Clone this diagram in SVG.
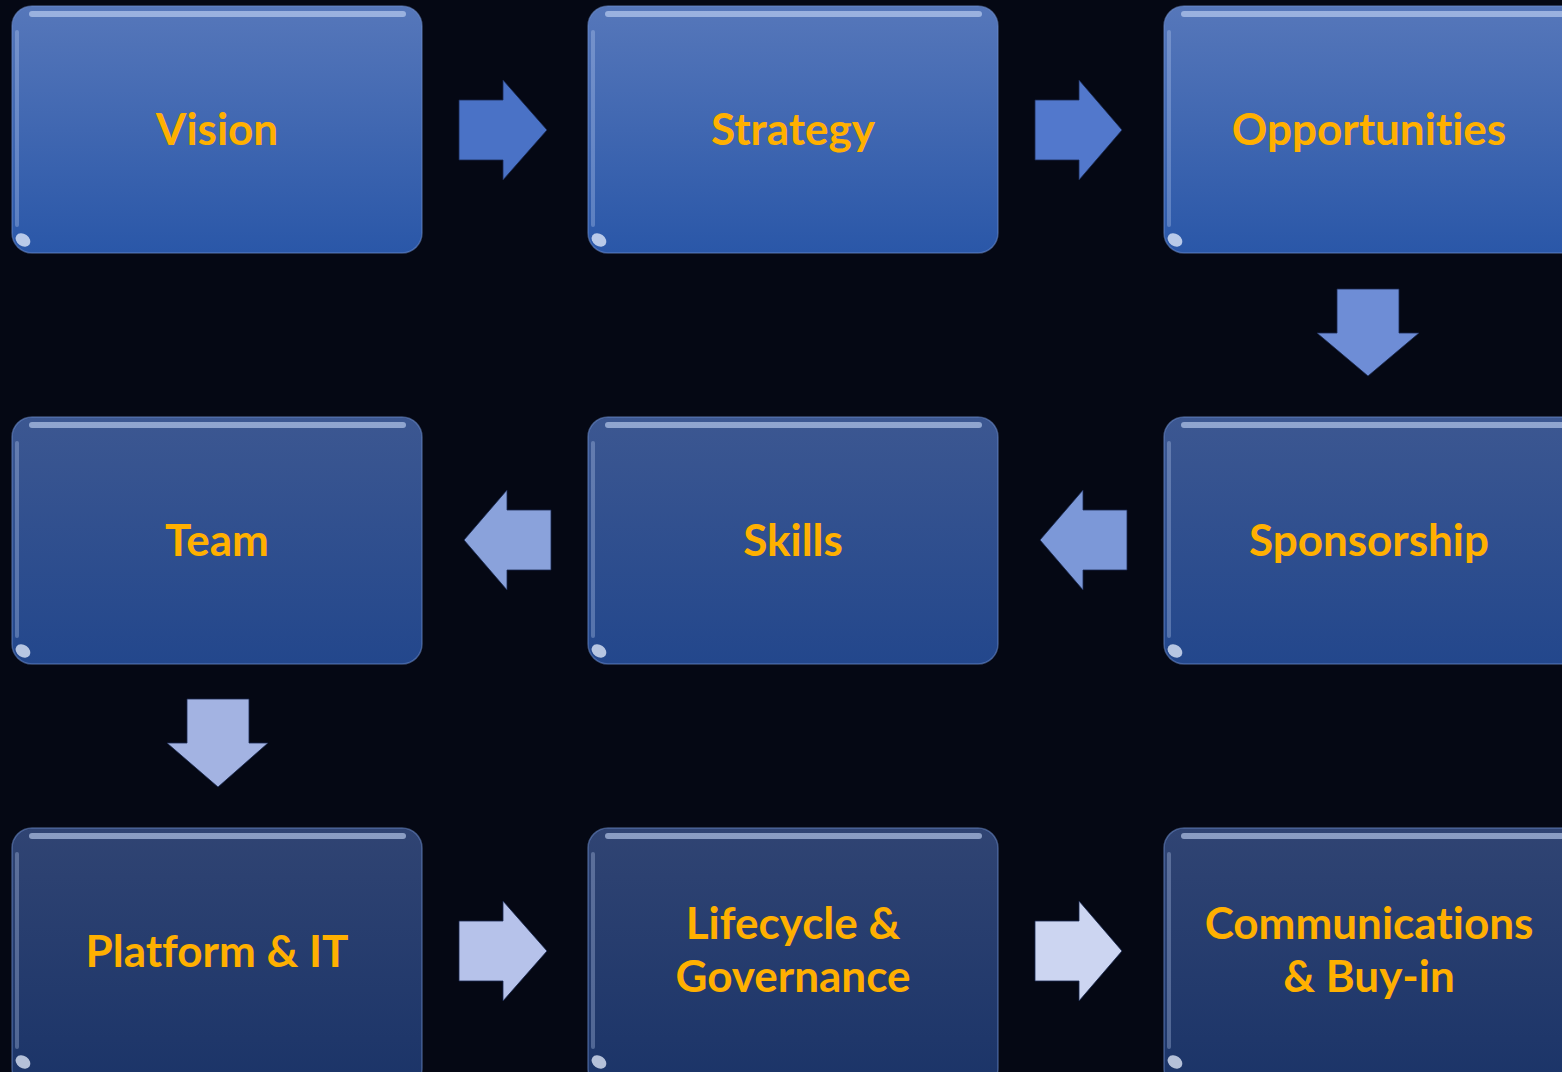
<svg xmlns="http://www.w3.org/2000/svg" width="1562" height="1072" viewBox="0 0 1562 1072">
<defs>
<linearGradient id="g1" x1="0" y1="0" x2="0" y2="1"><stop offset="0" stop-color="#5677ba"/><stop offset="1" stop-color="#2a57a8"/></linearGradient>
<linearGradient id="g2" x1="0" y1="0" x2="0" y2="1"><stop offset="0" stop-color="#3c5791"/><stop offset="1" stop-color="#23478c"/></linearGradient>
<linearGradient id="g3" x1="0" y1="0" x2="0" y2="1"><stop offset="0" stop-color="#304473"/><stop offset="1" stop-color="#1b3468"/></linearGradient>
<style>
.box{stroke:#6f8fcf;stroke-opacity:0.5;stroke-width:1.5}
.hl{stroke:#c8d8f8;stroke-width:6;stroke-linecap:round;opacity:0.6;fill:none}
.hl2{stroke:#c8d8f8;stroke-width:4;stroke-linecap:round;opacity:0.3;fill:none}
.spot{fill:#e8f0ff;opacity:0.75}
.lbl{font-family:Lato,"Liberation Sans",sans-serif;font-weight:bold;font-size:44px;fill:#ffb000;text-anchor:middle;font-variant-ligatures:none}
.arr{stroke:#1a2a50;stroke-width:0.8}
</style>
</defs>
<rect width="1562" height="1072" fill="#050814"/>

<g id="connectors">
<path class="arr" d="M459 100H503V80L547 130L503 180V160H459Z" fill="#4a72c6"/>
<path class="arr" d="M1035 100H1079V80L1122 130L1079 180V160H1035Z" fill="#5278cc"/>
<path class="arr" d="M1337 289H1399V333H1419L1368 376L1317 333H1337Z" fill="#6e8dd6"/>
<path class="arr" d="M1127 510H1083V490L1040 540L1083 590V570H1127Z" fill="#7c98d8"/>
<path class="arr" d="M551 510H507V490L464 540L507 590V570H551Z" fill="#8aa2db"/>
<path class="arr" d="M187 699H249V743H268L218 787L167 743H187Z" fill="#a3b3e2"/>
<path class="arr" d="M459 921H503V901L547 951L503 1001V981H459Z" fill="#b6c2ea"/>
<path class="arr" d="M1035 921H1079V901L1122 951L1079 1001V981H1035Z" fill="#ccd5f1"/>
</g>

<g id="vision">
<rect class="box" x="12" y="6" width="410" height="247" rx="20" fill="url(#g1)"/>
<path class="hl" d="M32 14H403"/><path class="hl2" d="M17 32V225"/><ellipse class="spot" cx="23" cy="240" rx="8" ry="6" transform="rotate(35 23 240)"/>
<text class="lbl" x="217" y="145">Vision</text>
</g>
<g id="strategy">
<rect class="box" x="588" y="6" width="410" height="247" rx="20" fill="url(#g1)"/>
<path class="hl" d="M608 14H979"/><path class="hl2" d="M593 32V225"/><ellipse class="spot" cx="599" cy="240" rx="8" ry="6" transform="rotate(35 599 240)"/>
<text class="lbl" x="793" y="145">Strategy</text>
</g>
<g id="opportunities">
<rect class="box" x="1164" y="6" width="420" height="247" rx="20" fill="url(#g1)"/>
<path class="hl" d="M1184 14H1562"/><path class="hl2" d="M1169 32V225"/><ellipse class="spot" cx="1175" cy="240" rx="8" ry="6" transform="rotate(35 1175 240)"/>
<text class="lbl" x="1369" y="145">Opportunities</text>
</g>
<g id="team">
<rect class="box" x="12" y="417" width="410" height="247" rx="20" fill="url(#g2)"/>
<path class="hl" d="M32 425H403"/><path class="hl2" d="M17 443V636"/><ellipse class="spot" cx="23" cy="651" rx="8" ry="6" transform="rotate(35 23 651)"/>
<text class="lbl" x="217" y="556">Team</text>
</g>
<g id="skills">
<rect class="box" x="588" y="417" width="410" height="247" rx="20" fill="url(#g2)"/>
<path class="hl" d="M608 425H979"/><path class="hl2" d="M593 443V636"/><ellipse class="spot" cx="599" cy="651" rx="8" ry="6" transform="rotate(35 599 651)"/>
<text class="lbl" x="793" y="556">Skills</text>
</g>
<g id="sponsorship">
<rect class="box" x="1164" y="417" width="420" height="247" rx="20" fill="url(#g2)"/>
<path class="hl" d="M1184 425H1562"/><path class="hl2" d="M1169 443V636"/><ellipse class="spot" cx="1175" cy="651" rx="8" ry="6" transform="rotate(35 1175 651)"/>
<text class="lbl" x="1369" y="556">Sponsorship</text>
</g>
<g id="platform">
<rect class="box" x="12" y="828" width="410" height="260" rx="20" fill="url(#g3)"/>
<path class="hl" d="M32 836H403"/><path class="hl2" d="M17 854V1047"/><ellipse class="spot" cx="23" cy="1062" rx="8" ry="6" transform="rotate(35 23 1062)"/>
<text class="lbl" x="217" y="967">Platform &amp; IT</text>
</g>
<g id="lifecycle">
<rect class="box" x="588" y="828" width="410" height="260" rx="20" fill="url(#g3)"/>
<path class="hl" d="M608 836H979"/><path class="hl2" d="M593 854V1047"/><ellipse class="spot" cx="599" cy="1062" rx="8" ry="6" transform="rotate(35 599 1062)"/>
<text class="lbl" x="793" y="939">Lifecycle &amp;</text>
<text class="lbl" x="793" y="992">Governance</text>
</g>
<g id="communications">
<rect class="box" x="1164" y="828" width="420" height="260" rx="20" fill="url(#g3)"/>
<path class="hl" d="M1184 836H1562"/><path class="hl2" d="M1169 854V1047"/><ellipse class="spot" cx="1175" cy="1062" rx="8" ry="6" transform="rotate(35 1175 1062)"/>
<text class="lbl" x="1369" y="939">Communications</text>
<text class="lbl" x="1369" y="992">&amp; Buy-in</text>
</g>
</svg>
